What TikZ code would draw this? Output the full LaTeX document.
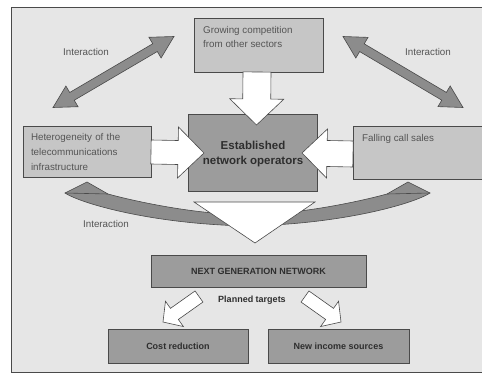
\documentclass[tikz,border=0pt]{standalone}
\usepackage{fontspec}
\setmainfont{Liberation Sans}
\usetikzlibrary{calc}
\definecolor{bgc}{HTML}{E6E6E6}
\definecolor{lightbox}{HTML}{C6C6C6}
\definecolor{darkbox}{HTML}{9C9C9C}
\definecolor{arrgray}{HTML}{8C8C8C}
\definecolor{edgec}{HTML}{4A4A4A}
\definecolor{txtc}{HTML}{555555}
\definecolor{boldc}{HTML}{2E2E2E}
% single block arrow: style, tail, tip, shaft half, head half, head length
\newcommand\blkarrow[6]{%
  \coordinate (tmpC) at ($(#3)!#6!(#2)$);
  \filldraw[#1] ($(#2)!#4!90:(#3)$) -- ($(tmpC)!#4!-90:(#2)$) -- ($(tmpC)!#5!-90:(#2)$)
    -- (#3) -- ($(tmpC)!#5!90:(#2)$) -- ($(tmpC)!#4!90:(#2)$) -- ($(#2)!#4!-90:(#3)$) -- cycle;}
% double block arrow: style, end A, end B, shaft half, head half, head length
\newcommand\dblarrow[6]{%
  \coordinate (tmpA) at ($(#2)!#6!(#3)$);
  \coordinate (tmpB) at ($(#3)!#6!(#2)$);
  \filldraw[#1] (#2) -- ($(tmpA)!#5!90:(#3)$) -- ($(tmpA)!#4!90:(#3)$) -- ($(tmpB)!#4!-90:(#2)$)
    -- ($(tmpB)!#5!-90:(#2)$) -- (#3) -- ($(tmpB)!#5!90:(#2)$) -- ($(tmpB)!#4!90:(#2)$)
    -- ($(tmpA)!#4!-90:(#3)$) -- ($(tmpA)!#5!-90:(#3)$) -- cycle;}
\tikzset{
  lbox/.style={draw=edgec, fill=lightbox, line width=0.8pt, inner sep=0pt},
  dbox/.style={draw=edgec, fill=darkbox, line width=0.8pt, inner sep=0pt},
  reg/.style={text=txtc, inner sep=0pt, font=\fontsize{9.8}{14}\selectfont},
  bld/.style={text=boldc, inner sep=0pt, font=\bfseries\fontsize{9}{12}\selectfont},
  whitearr/.style={fill=white, draw=edgec, line width=0.6pt, line join=miter},
  grayarr/.style={fill=arrgray, draw=edgec, line width=0.6pt, line join=miter},
}
\begin{document}
\begin{tikzpicture}[x=1pt, y=-1pt]
\useasboundingbox (0,0) rectangle (482,374);
\clip (0,0) rectangle (482,374);
\fill[white] (0,0) rectangle (482,374);
\filldraw[fill=bgc, draw=edgec, line width=0.8pt] (11,7) rectangle (495,372.5);

% boxes
\node[lbox, minimum width=129pt, minimum height=54pt] (grow) at (258.5,45) {};
\node[reg, anchor=north west, align=left] (growT) at (203,26.5) {Growing competition\\from other sectors};
\node[dbox, minimum width=129pt, minimum height=77pt] (est) at (252.5,152.5) {};
\node[lbox, minimum width=128pt, minimum height=51pt, text width=112pt, align=left, text=txtc,
      font=\fontsize{9.8}{15}\selectfont] (het) at (87,151.5) {Heterogeneity of the\\telecommunications\\infrastructure};
\node[lbox, minimum width=142pt, minimum height=53pt] (fall) at (424,152.5) {};
\node[reg, anchor=west] (fallT) at (362,139) {Falling call sales};

% interaction double arrows
\coordinate (ilA) at (53,107.5);
\coordinate (ilB) at (174,36.5);
\coordinate (irA) at (343,36.5);
\coordinate (irB) at (463,107.5);
\dblarrow{grayarr}{ilA}{ilB}{4.5pt}{12pt}{22pt}
\dblarrow{grayarr}{irA}{irB}{4.5pt}{12pt}{22pt}
\node[reg] (int1) at (86,52) {Interaction};
\node[reg] (int2) at (428,52) {Interaction};

% white arrows into central box
\coordinate (dT) at (257,72);
\coordinate (dH) at (256.5,125);
\blkarrow{whitearr}{dT}{dH}{14pt}{27pt}{26pt}
\coordinate (lT) at (151,152);
\coordinate (lH) at (204,153);
\blkarrow{whitearr}{lT}{lH}{12pt}{25.5pt}{26pt}
\coordinate (rT) at (353,154);
\coordinate (rH) at (302,153);
\blkarrow{whitearr}{rT}{rH}{13pt}{24.5pt}{25pt}

\node[font=\bfseries\fontsize{11.5}{15}\selectfont, text=boldc, align=center] (estT) at (253,154)
  {Established\\network operators};

% curved interaction band
\filldraw[grayarr] (65,193) .. controls (80,203) and (150,224) .. (247.5,226)
  .. controls (345,224) and (415,203) .. (430,193) -- (408,182) -- (387,194)
  .. controls (365,200) and (305,214) .. (247.5,215)
  .. controls (190,214) and (130,200) .. (108,194) -- (87,182) -- cycle;
\draw[edgec, line width=0.6pt] (65,193) -- (108,194) (387,194) -- (430,193);
\node[reg] (int3) at (106,224) {Interaction};

% big white triangle
\filldraw[whitearr] (194,202) -- (315,202) -- (255,243) -- cycle;

% lower part
\node[dbox, minimum width=215pt, minimum height=32pt, bld] (ngn) at (258.5,271) {NEXT GENERATION NETWORK};
\node[bld] (plan) at (252,300) {Planned targets};
\node[dbox, minimum width=140pt, minimum height=34pt, bld] (cost) at (178,346) {Cost reduction};
\node[dbox, minimum width=141pt, minimum height=34pt, bld] (inc) at (338.5,346) {New income sources};
\coordinate (bl1) at (199,296.5);
\coordinate (bl2) at (163,322);
\coordinate (br1) at (305,296.5);
\coordinate (br2) at (341,322);
\blkarrow{whitearr}{bl1}{bl2}{6.8pt}{15.5pt}{14pt}
\blkarrow{whitearr}{br1}{br2}{6.8pt}{15.5pt}{14pt}
\end{tikzpicture}
\end{document}
